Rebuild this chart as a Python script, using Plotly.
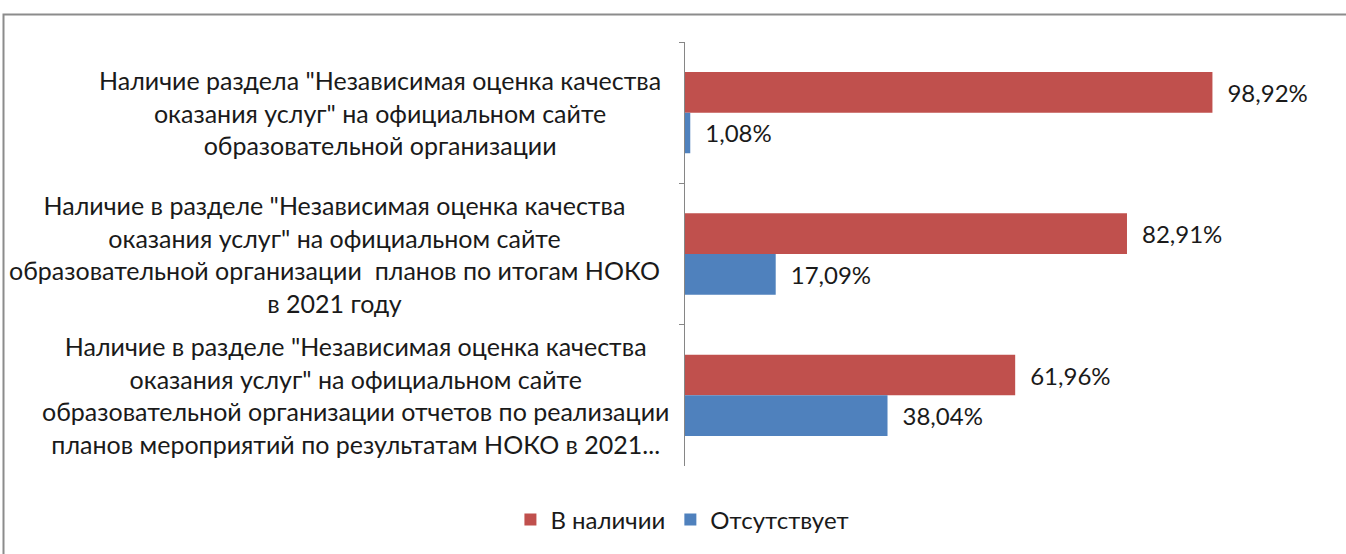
import plotly.graph_objects as go

categories = [
    'Наличие раздела "Независимая оценка качества<br>оказания услуг" на официальном сайте<br>образовательной организации',
    'Наличие в разделе "Независимая оценка качества<br>оказания услуг" на официальном сайте<br>образовательной организации  планов по итогам НОКО<br>в 2021 году',
    'Наличие в разделе "Независимая оценка качества<br>оказания услуг" на официальном сайте<br>образовательной организации отчетов по реализации<br>планов мероприятий по результатам НОКО в 2021...',
]
cat_ids = ["c1", "c2", "c3"]
present = [98.92, 82.91, 61.96]
absent = [1.08, 17.09, 38.04]
series_names = ["В наличии", "Отсутствует"]

W, H = 1346, 554
FONT = "Lato, Calibri, sans-serif"
FS = 24
FS_CAT = 25
TXT = "#1a1a1a"

def px(x):
    return x / W

def py(y):
    return 1 - y / H

fig = go.Figure()
fig.add_trace(go.Bar(
    y=cat_ids, x=present, orientation="h", name=series_names[0],
    marker=dict(color="#C0504D", line=dict(width=0)),
    texttemplate="\u2002%{x:.2f}%", textposition="outside",
    textfont=dict(family=FONT, size=FS, color=TXT), cliponaxis=False,
))
fig.add_trace(go.Bar(
    y=cat_ids, x=absent, orientation="h", name=series_names[1],
    marker=dict(color="#4F81BD", line=dict(width=0)),
    texttemplate="\u2002%{x:.2f}%", textposition="outside",
    textfont=dict(family=FONT, size=FS, color=TXT), cliponaxis=False,
))

right_edges = [663, 662, 671]
for cid, label, re in zip(cat_ids, categories, right_edges):
    fig.add_annotation(
        x=px(re), xref="paper", xanchor="right",
        y=cid, yref="y", yanchor="middle",
        text=label, showarrow=False, align="center",
        font=dict(family=FONT, size=FS_CAT, color=TXT),
    )

fig.add_shape(
    type="rect", xref="paper", yref="paper",
    x0=px(3.5), y0=py(14.5), x1=1.02, y1=-0.02,
    line=dict(color="#8c8c8c", width=2), fillcolor="rgba(0,0,0,0)",
    layer="below",
)

fig.update_layout(
    width=W, height=H,
    margin=dict(l=0, r=0, t=0, b=0),
    paper_bgcolor="white", plot_bgcolor="white",
    barmode="group", bargap=0.425, bargroupgap=0,
    separators=", ",
    showlegend=True,
    legend=dict(
        orientation="h", x=0.507, xanchor="center", y=py(520), yanchor="middle",
        font=dict(family=FONT, size=FS, color=TXT),
        traceorder="normal", itemwidth=30,
    ),
    xaxis=dict(
        domain=[px(684.5), px(684.5 + 120 * 5.337)], range=[0, 120],
        showgrid=False, zeroline=False, showticklabels=False, showline=False, ticks="",
    ),
    yaxis=dict(
        domain=[py(466), py(42)], autorange="reversed",
        categoryorder="array", categoryarray=cat_ids,
        showgrid=False, zeroline=False, showticklabels=False,
        showline=True, linecolor="#868686", linewidth=1,
        ticks="outside", tickson="boundaries", ticklen=5, tickcolor="#868686",
    ),
)

fig.write_html("out.html")
